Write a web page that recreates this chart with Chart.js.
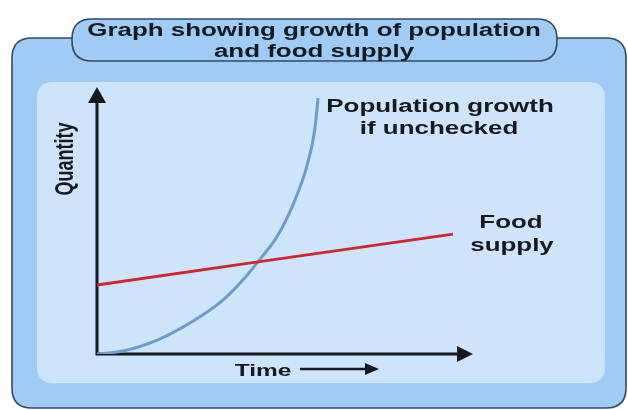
<!DOCTYPE html>
<html>
<head>
<meta charset="utf-8">
<title>Graph showing growth of population and food supply</title>
<script src="https://cdn.jsdelivr.net/npm/chart.js@4"></script>
<style>
  html, body { margin: 0; padding: 0; background: #ffffff; }
  #wrap { width: 628px; height: 410px; }
</style>
</head>
<body>
<div id="wrap"><canvas id="chart" width="628" height="410"></canvas></div>
<script>
// Time / quantity values (arbitrary units, 0-10 on both axes)
const popTime   = [0, 0.69, 1.60, 2.47, 3.35, 3.88, 4.28, 4.49, 4.71, 4.92, 5.13, 5.35, 5.51, 5.61, 5.72, 5.80, 5.88];
const popValues = [0, 0.11, 0.52, 1.16, 2.02, 2.77, 3.45, 3.82, 4.23, 4.72, 5.32, 6.07, 6.70, 7.19, 7.83, 8.50, 9.59];
const foodTime   = [0, 4.28, 9.47];
const foodValues = [2.58, 3.45, 4.49];
const titleLines = ['Graph showing growth of population', 'and food supply'];
const popLabel  = ['Population growth', 'if unchecked'];
const foodLabel = ['Food', 'supply'];
const xTitle = 'Time';
const yTitle = 'Quantity';

const toPoints = (xs, ys) => xs.map((x, i) => ({ x: x, y: ys[i] }));

const FONT = '"Liberation Sans", Arial, sans-serif';
const STRETCH = 1.44;
const INK = '#161a1f';

function roundRect(ctx, x, y, w, h, r) {
  ctx.beginPath();
  ctx.moveTo(x + r, y);
  ctx.lineTo(x + w - r, y);
  ctx.quadraticCurveTo(x + w, y, x + w, y + r);
  ctx.lineTo(x + w, y + h - r);
  ctx.quadraticCurveTo(x + w, y + h, x + w - r, y + h);
  ctx.lineTo(x + r, y + h);
  ctx.quadraticCurveTo(x, y + h, x, y + h - r);
  ctx.lineTo(x, y + r);
  ctx.quadraticCurveTo(x, y, x + r, y);
  ctx.closePath();
}

function wideText(ctx, text, cx, baseline, size) {
  ctx.save();
  ctx.translate(cx, baseline);
  ctx.scale(STRETCH, 1);
  ctx.font = 'bold ' + size + 'px ' + FONT;
  ctx.fillStyle = INK;
  ctx.textAlign = 'center';
  ctx.textBaseline = 'alphabetic';
  ctx.fillText(text, 0, 0);
  ctx.restore();
}

// Framed panels behind the plot
const framePlugin = {
  id: 'frame',
  beforeDraw(chart) {
    const ctx = chart.ctx;
    ctx.save();
    // outer box
    roundRect(ctx, 12, 38, 614, 370, 20);
    ctx.fillStyle = '#9fcbf6';
    ctx.fill();
    ctx.lineWidth = 1.6;
    ctx.strokeStyle = '#34495e';
    ctx.stroke();
    // title pill
    roundRect(ctx, 72, 19, 485, 42, 20);
    ctx.fillStyle = '#9fcbf6';
    ctx.fill();
    ctx.lineWidth = 1.6;
    ctx.strokeStyle = '#34495e';
    ctx.stroke();
    // inner plot panel
    roundRect(ctx, 37, 82, 568, 301, 16);
    ctx.fillStyle = '#cde4fa';
    ctx.fill();
    ctx.restore();
  },
  beforeDatasetsDraw(chart) {
    const ctx = chart.ctx;
    const xs = chart.scales.x, ys = chart.scales.y;
    const x0 = xs.getPixelForValue(0), x1 = xs.getPixelForValue(10);
    const y0 = ys.getPixelForValue(0), y1 = ys.getPixelForValue(10);
    ctx.save();
    ctx.strokeStyle = INK;
    ctx.fillStyle = INK;
    ctx.lineWidth = 3;
    ctx.lineCap = 'butt';
    ctx.beginPath();
    ctx.moveTo(x0, y0 + 1.5);
    ctx.lineTo(x0, y1 + 12);
    ctx.moveTo(x0 - 1.5, y0);
    ctx.lineTo(x1 - 12, y0);
    ctx.stroke();
    // arrowheads
    ctx.beginPath();
    ctx.moveTo(x0, y1);
    ctx.lineTo(x0 - 9, y1 + 16);
    ctx.lineTo(x0 + 9, y1 + 16);
    ctx.closePath();
    ctx.fill();
    ctx.beginPath();
    ctx.moveTo(x1, y0);
    ctx.lineTo(x1 - 16, y0 - 8);
    ctx.lineTo(x1 - 16, y0 + 8);
    ctx.closePath();
    ctx.fill();
    ctx.restore();
  },
  afterDraw(chart) {
    const ctx = chart.ctx;
    // title
    wideText(ctx, titleLines[0], 314, 36, 18);
    wideText(ctx, titleLines[1], 314, 57, 18);
    // series labels
    wideText(ctx, popLabel[0], 440, 112, 18);
    wideText(ctx, popLabel[1], 439, 134, 18);
    wideText(ctx, foodLabel[0], 511, 228, 18);
    wideText(ctx, foodLabel[1], 512, 251, 18);
    // x axis title with arrow
    wideText(ctx, xTitle, 263, 376, 17);
    ctx.save();
    ctx.strokeStyle = INK;
    ctx.fillStyle = INK;
    ctx.lineWidth = 2.5;
    ctx.beginPath();
    ctx.moveTo(300, 369);
    ctx.lineTo(367, 369);
    ctx.stroke();
    ctx.beginPath();
    ctx.moveTo(379, 369);
    ctx.lineTo(365, 363);
    ctx.lineTo(365, 375);
    ctx.closePath();
    ctx.fill();
    ctx.restore();
    // y axis title
    ctx.save();
    ctx.translate(66, 159);
    ctx.rotate(-Math.PI / 2);
    ctx.scale(1, STRETCH);
    ctx.font = 'bold 18px ' + FONT;
    ctx.fillStyle = INK;
    ctx.textAlign = 'center';
    ctx.textBaseline = 'middle';
    ctx.fillText(yTitle, 0, 0);
    ctx.restore();
  }
};

new Chart(document.getElementById('chart'), {
  type: 'line',
  data: {
    datasets: [
      {
        label: 'Food supply',
        data: toPoints(foodTime, foodValues),
        borderColor: '#d3252e',
        borderWidth: 3,
        pointRadius: 0,
        tension: 0
      },
      {
        label: 'Population growth if unchecked',
        data: toPoints(popTime, popValues),
        borderColor: '#6f9bc9',
        borderWidth: 3,
        pointRadius: 0,
        cubicInterpolationMode: 'monotone'
      }
    ]
  },
  options: {
    responsive: false,
    animation: false,
    events: [],
    layout: { padding: { left: 97, right: 155, top: 87, bottom: 56 } },
    scales: {
      x: { type: 'linear', min: 0, max: 10, display: false },
      y: { type: 'linear', min: 0, max: 10, display: false }
    },
    plugins: {
      legend: { display: false },
      tooltip: { enabled: false },
      title: { display: false }
    }
  },
  plugins: [framePlugin]
});
</script>
</body>
</html>
